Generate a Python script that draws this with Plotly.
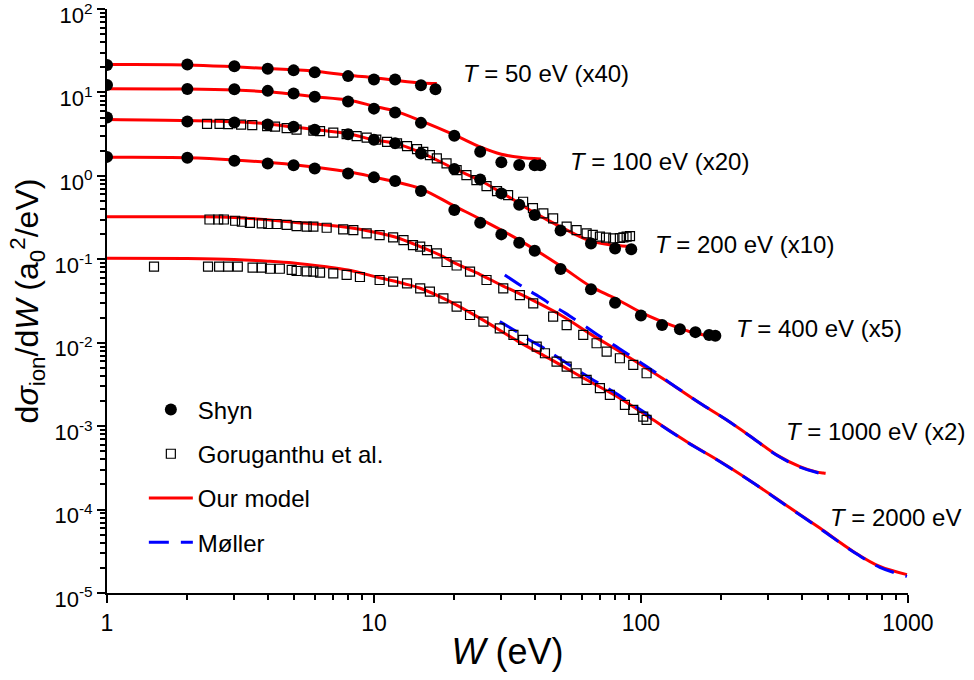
import plotly.graph_objects as go

# ---------------- data (values already multiplied by the factor in each label) ----------------
# Shyn (filled circles)
shyn_T50_W = [1, 2, 3, 4, 5, 6, 8, 10, 12, 15, 17]
shyn_T50_V = [21.4, 21.6, 20.6, 19.2, 18.4, 17.5, 15.7, 14.3, 14.3, 12.2, 10.9]
shyn_T100_W = [1, 2, 3, 4, 5, 6, 8, 10, 12, 15, 20, 25, 30, 35, 40, 42]
shyn_T100_V = [12.3, 11.0, 10.96, 10.45, 9.73, 8.86, 7.8, 6.4, 5.76, 4.32, 3.02, 1.95, 1.46, 1.35, 1.34, 1.34]
shyn_T200_W = [1, 2, 3, 4, 5, 6, 8, 10, 12, 15, 20, 25, 30, 35, 40, 50, 65, 80, 92]
shyn_T200_V = [5.02, 4.49, 4.37, 4.14, 3.89, 3.58, 3.15, 2.71, 2.47, 1.86, 1.21, 0.908, 0.617, 0.451,
               0.340, 0.221, 0.155, 0.135, 0.132]
shyn_T400_W = [1, 2, 3, 4, 5, 6, 8, 10, 12, 15, 20, 25, 30, 35, 40, 50, 65, 80, 100, 120, 140, 160, 180, 190]
shyn_T400_V = [1.69, 1.65, 1.52, 1.41, 1.34, 1.23, 1.07, 0.960, 0.867, 0.658, 0.389, 0.274, 0.199, 0.158,
               0.127, 0.0766, 0.0437, 0.0302, 0.0212, 0.0163, 0.0145, 0.0134, 0.0124, 0.0121]

# Goruganthu et al. (open squares)
gor_T200_W = [2.37, 2.64, 2.84, 3.18, 3.50, 3.98, 4.26, 4.71, 5.13, 5.93, 6.28, 7.04, 7.90, 8.61, 9.39,
              10.2, 11.2, 12.2, 13.3, 14.5, 15.3, 16.2, 17.2, 18.7, 20.4, 22.2, 24.2, 26.4, 28.9, 31.8,
              36.2, 39.4, 43.1, 46.9, 52.7, 57.4, 62.6, 66, 70.2, 74, 78.8, 83.4, 86, 88.4, 91]
gor_T200_V = [4.21, 4.20, 4.17, 4.11, 4.06, 3.94, 3.89, 3.74, 3.58, 3.49, 3.44, 3.30, 3.17, 3.00, 2.87,
              2.72, 2.56, 2.45, 2.27, 2.09, 1.94, 1.77, 1.62, 1.41, 1.17, 1.02, 0.889, 0.755, 0.658, 0.589,
              0.490, 0.411, 0.356, 0.310, 0.246, 0.224, 0.205, 0.196, 0.187, 0.182, 0.178, 0.180, 0.183,
              0.187, 0.19]
gor_T1000_W = [2.42, 2.61, 2.74, 3.02, 3.20, 3.43, 3.80, 4.02, 4.32, 4.71, 5.13, 5.60, 5.93, 6.65, 7.67,
               8.37, 9.39, 10.5, 11.8, 12.9, 14.0, 14.9, 15.8, 17.2, 18.7, 20.4, 22.9, 26.4, 30.5, 35.2,
               39.5, 46.9, 52.7, 60.8, 68.2, 74.4, 83.4, 93.6, 105]
gor_T1000_V = [0.300, 0.300, 0.300, 0.290, 0.282, 0.274, 0.270, 0.265, 0.265, 0.258, 0.250, 0.246, 0.246,
               0.239, 0.229, 0.224, 0.205, 0.195, 0.183, 0.170, 0.148, 0.142, 0.129, 0.118, 0.0929,
               0.0843, 0.0710, 0.0565, 0.0449, 0.0373, 0.0297, 0.0205, 0.0163, 0.0124, 0.00986,
               0.00782, 0.00652, 0.00542, 0.00431]
gor_T2000_W = [1.50, 2.39, 2.63, 2.84, 3.09, 3.51, 3.80, 4.08, 4.44, 4.92, 5.13, 5.60, 5.93, 6.28, 7.04,
               7.90, 8.86, 10.5, 11.8, 13.3, 14.9, 16.2, 18.2, 20.4, 22.9, 25.7, 29.6, 33.3, 36.2, 40.7,
               43.7, 48.3, 52.7, 57.4, 62.6, 70.2, 76.5, 87.1, 93.6, 102, 105]
gor_T2000_V = [0.0815, 0.0815, 0.0815, 0.0815, 0.0815, 0.0793, 0.0793, 0.0771, 0.0771, 0.0745, 0.0724,
               0.0716, 0.071, 0.0692, 0.068, 0.065, 0.0614, 0.0565, 0.054, 0.0516, 0.0449, 0.0409,
               0.0341, 0.0271, 0.0215, 0.0179, 0.0149, 0.0124, 0.0108, 0.00898, 0.00748, 0.00594,
               0.00517, 0.00431, 0.00358, 0.00285, 0.00237, 0.00180, 0.00157, 0.00130, 0.00119]

# Our model (red solid)
model_T50_W = [1, 2, 3, 4, 5, 6, 8, 10, 12, 15, 17.2]
model_T50_V = [21.6, 21.4, 20.3, 19.4, 18.7, 18.0, 16.1, 15.0, 14.0, 13.0, 12.8]
model_T100_W = [1, 2, 3, 4, 5, 6, 8, 10, 12, 15, 20, 25, 30, 35, 42.2]
model_T100_V = [11.1, 11.0, 10.7, 10.2, 9.5, 8.9, 8.1, 6.85, 5.97, 4.57, 3.1, 2.23, 1.82, 1.67, 1.59]
model_T200_W = [1, 2, 3, 4, 5, 6, 8, 10, 12, 15, 20, 25, 30, 35, 40, 50, 65, 80, 92.2]
model_T200_V = [4.75, 4.62, 4.45, 4.2, 3.85, 3.6, 3.2, 2.7, 2.45, 1.9, 1.22, 0.88, 0.63, 0.47, 0.36,
                0.245, 0.165, 0.147, 0.142]
model_T400_W = [1, 2, 3, 5, 8, 10, 12, 15, 20, 25, 35, 50, 65, 80, 100, 120, 140, 160, 192]
model_T400_V = [1.67, 1.65, 1.55, 1.36, 1.12, 0.97, 0.85, 0.70, 0.435, 0.304, 0.170, 0.0832, 0.047,
                0.0341, 0.0231, 0.0179, 0.0149, 0.013, 0.0118]
model_T1000_W = [1, 2, 3, 5, 8, 10.5, 12, 14.9, 17.7, 20.4, 25, 30, 35.2, 50, 65, 83.4, 105, 128.5, 166,
                 209, 263, 322, 394, 450, 482, 492]
model_T1000_V = [0.324, 0.323, 0.318, 0.279, 0.24, 0.205, 0.185, 0.142, 0.112, 0.088, 0.0657, 0.049,
                 0.0385, 0.0215, 0.0126, 0.0078, 0.00495, 0.00327, 0.00189, 0.00119, 0.000718,
                 0.000453, 0.000328, 0.000285, 0.000274, 0.000272]
model_T2000_W = [1, 2, 3, 4, 5, 6.5, 8, 10.5, 13, 14.9, 18.7, 25, 35.2, 45.6, 59, 83.4, 111, 148, 198,
                 263, 351, 468, 624, 785, 992]
model_T2000_V = [0.103, 0.102, 0.0995, 0.095, 0.0903, 0.082, 0.0745, 0.060, 0.051, 0.045, 0.0326, 0.0196,
                 0.0101, 0.0064, 0.0040, 0.00216, 0.00119, 0.000654, 0.000377, 0.00021, 0.000112,
                 0.00006, 0.0000315, 0.0000208, 0.0000166]

# Moller (blue dashed)
mol_T1000_W = [30.9, 35.2, 37.7, 42.9, 45.6, 51.9, 55.5, 63.2, 67.2, 77.0, 83.4, 96.4, 103, 117, 128.5,
               166, 209, 263, 322, 394, 482, 492]
mol_T1000_V = [0.0649, 0.0492, 0.0429, 0.0335, 0.0292, 0.0228, 0.0198, 0.0150, 0.0131, 0.00995,
               0.00843, 0.00622, 0.00542, 0.00411, 0.0033, 0.0019, 0.00119, 0.000715, 0.00045,
               0.000322, 0.000266, 0.000262]
mol_T2000_W = [29.6, 34.2, 37.3, 42.4, 46.3, 52.7, 59.1, 66.2, 73.2, 84.6, 90.9, 105, 111, 148, 198,
               263, 351, 468, 624, 785, 992]
mol_T2000_V = [0.0179, 0.0136, 0.0113, 0.00898, 0.00748, 0.00568, 0.00451, 0.00358, 0.00298, 0.00224,
               0.0019, 0.0014, 0.0012, 0.00065, 0.000375, 0.00021, 0.000111, 0.0000595, 0.0000312,
               0.0000203, 0.0000158]

# curve labels
label_texts = ["<i>T</i> = 50 eV (x40)", "<i>T</i> = 100 eV (x20)", "<i>T</i> = 200 eV (x10)",
               "<i>T</i> = 400 eV (x5)", "<i>T</i> = 1000 eV (x2)", "<i>T</i> = 2000 eV"]
label_logx = [1.327, 1.727, 2.046, 2.349, 2.536, 2.701]
label_logy = [1.231, 0.177, -0.817, -1.835, -3.068, -4.098]

x_tickvals = [1, 10, 100, 1000]
x_ticktext = ["1", "10", "100", "1000"]
y_exponents = [-5, -4, -3, -2, -1, 0, 1, 2]

FONT = "Liberation Sans, Arial, sans-serif"
RED = "#FF0000"
BLUE = "#0000FF"

fig = go.Figure()

model_sets = [(model_T50_W, model_T50_V), (model_T100_W, model_T100_V), (model_T200_W, model_T200_V),
              (model_T400_W, model_T400_V), (model_T1000_W, model_T1000_V), (model_T2000_W, model_T2000_V)]
for i, (w, v) in enumerate(model_sets):
    fig.add_trace(go.Scatter(x=w, y=v, mode="lines", line=dict(color=RED, width=3, shape="spline"),
                             name="Our model", legendgroup="c", legendrank=3, showlegend=(i == 0)))

mol_sets = [(mol_T1000_W, mol_T1000_V), (mol_T2000_W, mol_T2000_V)]
for i, (w, v) in enumerate(mol_sets):
    fig.add_trace(go.Scatter(x=w, y=v, mode="lines",
                             line=dict(color=BLUE, width=3, shape="spline", dash="20px,12px"),
                             name="Møller", legendgroup="d", legendrank=4, showlegend=(i == 0)))

gor_sets = [(gor_T200_W, gor_T200_V), (gor_T1000_W, gor_T1000_V), (gor_T2000_W, gor_T2000_V)]
for i, (w, v) in enumerate(gor_sets):
    fig.add_trace(go.Scatter(x=w, y=v, mode="markers",
                             marker=dict(symbol="square-open", size=9, color="black", line=dict(width=1.2)),
                             name="Goruganthu et al.", legendgroup="b", legendrank=2, showlegend=(i == 0)))

shyn_sets = [(shyn_T50_W, shyn_T50_V), (shyn_T100_W, shyn_T100_V), (shyn_T200_W, shyn_T200_V),
             (shyn_T400_W, shyn_T400_V)]
for i, (w, v) in enumerate(shyn_sets):
    fig.add_trace(go.Scatter(x=w, y=v, mode="markers",
                             marker=dict(symbol="circle", size=12, color="black"),
                             name="Shyn", legendgroup="a", legendrank=1, showlegend=(i == 0)))

for t, lx, ly in zip(label_texts, label_logx, label_logy):
    fig.add_annotation(x=lx, y=ly, xref="x", yref="y", text=t, showarrow=False,
                       xanchor="left", yanchor="middle", font=dict(size=24, color="black", family=FONT))

minor_x = [m * 10 ** d for d in range(0, 3) for m in range(2, 10)]
minor_y = [m * 10.0 ** d for d in range(-5, 2) for m in range(2, 10)]

fig.update_layout(
    width=974, height=680,
    margin=dict(l=107, r=66, t=9, b=87, autoexpand=False),
    paper_bgcolor="white", plot_bgcolor="white",
    font=dict(family=FONT, color="black", size=24),
    showlegend=True,
    legend=dict(x=0.046, y=0.352, xanchor="left", yanchor="top", bgcolor="rgba(0,0,0,0)",
                font=dict(size=24, family=FONT), traceorder="grouped", tracegroupgap=10,
                itemwidth=44),
    xaxis=dict(type="log", range=[0, 3.0004], showline=True, linecolor="black", linewidth=2,
               showgrid=False, zeroline=False, ticks="outside", ticklen=8, tickwidth=2,
               tickcolor="black", tickvals=x_tickvals, ticktext=x_ticktext, automargin=False,
               tickfont=dict(size=23, family=FONT), ticklabeloverflow="allow",
               minor=dict(tickvals=minor_x, ticks="outside", ticklen=5, tickwidth=1.5,
                          tickcolor="black", showgrid=False),
               title=dict(text="<i>W</i> (eV)", font=dict(size=36, family=FONT), standoff=4)),
    yaxis=dict(type="log", range=[-5, 2.0005], showline=True, linecolor="black", linewidth=2,
               showgrid=False, zeroline=False, ticks="outside", ticklen=8, tickwidth=2,
               tickcolor="black", tickvals=[10.0 ** e for e in y_exponents], automargin=False,
               ticktext=["10<sup>%d</sup>" % e for e in y_exponents], ticklabeloverflow="allow",
               ticklabelshift=6,
               tickfont=dict(size=22, family=FONT),
               minor=dict(tickvals=minor_y, ticks="outside", ticklen=5, tickwidth=1.5,
                          tickcolor="black", showgrid=False),
               title=dict(text="d<i>σ</i><sub>ion</sub>/d<i>W</i> (a<sub>0</sub><sup>2</sup>/eV)",
                          font=dict(size=32, family=FONT), standoff=6)),
)

# remove the browser's default 8 px body margin so the 974x680 figure fills the window exactly
fig.write_html("out.html", config={"displayModeBar": False},
               post_script="document.body.style.margin='0px';")
